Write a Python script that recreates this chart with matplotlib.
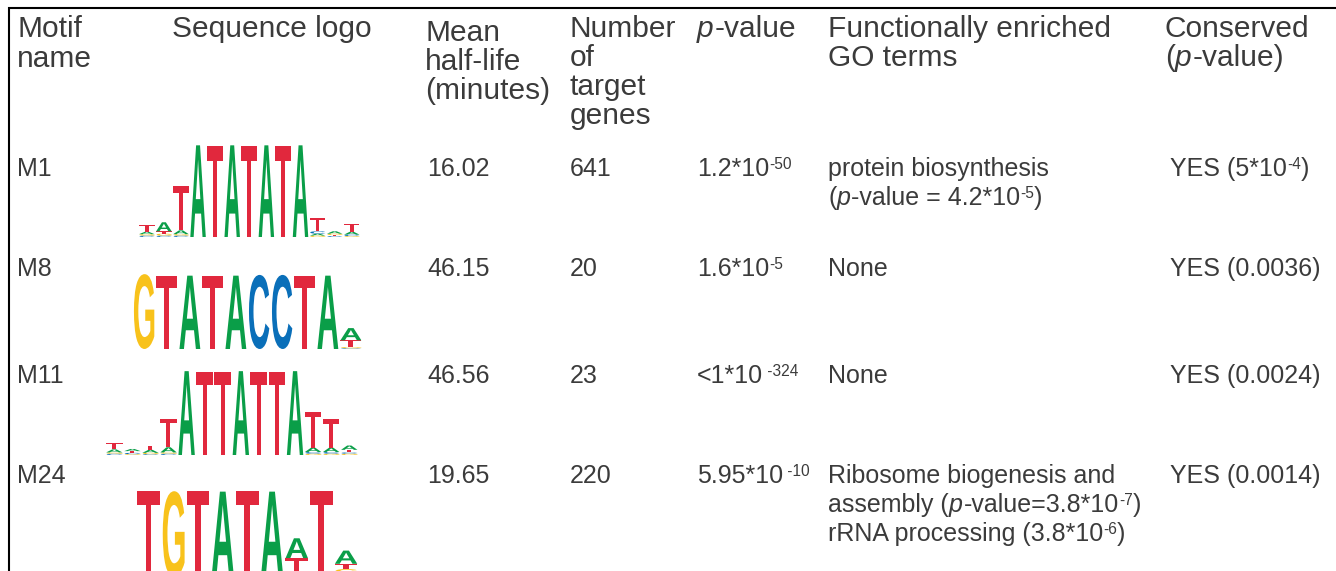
import matplotlib
matplotlib.use('Agg')
import matplotlib.pyplot as plt
from matplotlib.textpath import TextPath
from matplotlib.font_manager import FontProperties
from matplotlib.patches import PathPatch
from matplotlib.transforms import Affine2D

# ---------------- data ----------------
header_motif = ['Motif', 'name']
header_logo = 'Sequence logo'
header_halflife = ['Mean', 'half-life', '(minutes)']
header_targets = ['Number', 'of', 'target', 'genes']
header_go = ['Functionally enriched', 'GO terms']

motif_names = ['M1', 'M8', 'M11', 'M24']
half_lives = ['16.02', '46.15', '46.56', '19.65']
target_genes = ['641', '20', '23', '220']
pvalue_base = ['1.2*10', '1.6*10', '<1*10', '5.95*10']
pvalue_exp = ['-50', '-5', ' -324', ' -10']

go_terms = [
    [[('protein biosynthesis', 'n')],
     [('(', 'n'), ('p', 'it'), ('-value = 4.2*10', 'n'), ('-5', 'sup'), (')', 'n')]],
    [[('None', 'n')]],
    [[('None', 'n')]],
    [[('Ribosome biogenesis and', 'n')],
     [('assembly (', 'n'), ('p', 'it'), ('-value=3.8*10', 'n'), ('-7', 'sup'), (')', 'n')],
     [('rRNA processing (3.8*10', 'n'), ('-6', 'sup'), (')', 'n')]],
]
conserved = [
    [('YES (5*10', 'n'), ('-4', 'sup'), (')', 'n')],
    [('YES (0.0036)', 'n')],
    [('YES (0.0024)', 'n')],
    [('YES (0.0014)', 'n')],
]

# sequence logos: one dict of information (bits) per position
logo_M1 = [
    {'A': .05, 'C': .03, 'G': .03, 'T': .14},
    {'A': .19, 'C': .03, 'G': .04, 'T': .05},
    {'A': .08, 'C': .03, 'G': .03, 'T': .94},
    {'A': 1.93}, {'T': 1.92}, {'A': 1.93}, {'T': 1.92},
    {'A': 1.93}, {'T': 1.92}, {'A': 1.93},
    {'A': .04, 'C': .05, 'G': .03, 'T': .28},
    {'A': .05, 'C': .02, 'G': .03, 'T': .02},
    {'A': .06, 'C': .03, 'G': .02, 'T': .17},
]
logo_M8 = [
    {'G': 1.97}, {'T': 1.93}, {'A': 1.93}, {'T': 1.93}, {'A': 1.93},
    {'C': 1.95}, {'C': 1.95}, {'T': 1.93}, {'A': 1.93},
    {'A': .32, 'T': .18, 'G': .03, 'C': .02},
]
logo_M11 = [
    {'T': .14, 'A': .07, 'C': .03, 'G': .03},
    {'A': .05, 'T': .04, 'C': .03, 'G': .02},
    {'T': .10, 'A': .07, 'G': .03, 'C': .02},
    {'T': .66, 'A': .12, 'C': .03, 'G': .03},
    {'A': 1.95}, {'T': 1.93}, {'T': 1.93}, {'A': 1.95},
    {'T': 1.93}, {'T': 1.93}, {'A': 1.95},
    {'T': .84, 'A': .10, 'C': .04, 'G': .03},
    {'T': .66, 'A': .10, 'C': .04, 'G': .03},
    {'A': .10, 'T': .06, 'G': .03, 'C': .03},
]
logo_M24 = [
    {'T': 1.95}, {'G': 1.95}, {'T': 1.95}, {'A': 1.94}, {'T': 1.95},
    {'A': 1.94},
    {'A': .45, 'T': .40, 'G': .02, 'C': .01},
    {'T': 1.95},
    {'A': .30, 'T': .12, 'G': .10, 'C': .08},
]
logos = [logo_M1, logo_M8, logo_M11, logo_M24]

# ---------------- layout / style ----------------
W, H = 1336, 571
TXT = '#3b3b3b'
FONT = 'Liberation Sans'
HSIZE = 21.5
BSIZE = 18
base_colors = {'A': '#0a9e48', 'C': '#0a6fb9', 'G': '#f8c21b', 'T': '#e1283d'}

fig = plt.figure(figsize=(W / 100, H / 100), dpi=100)
ax = fig.add_axes([0, 0, 1, 1])
ax.set_xlim(0, W)
ax.set_ylim(H, 0)
ax.axis('off')
renderer = fig.canvas.get_renderer()


def rich(x, y, segs, size):
    for s, kind in segs:
        if kind == 'sup':
            t = ax.text(x, y - 7, s, fontsize=size * 0.62, family=FONT,
                        color=TXT, va='baseline', ha='left')
        else:
            t = ax.text(x, y, s, fontsize=size, family=FONT, color=TXT,
                        va='baseline', ha='left',
                        fontstyle='italic' if kind == 'it' else 'normal')
        bb = t.get_window_extent(renderer)
        x += bb.width + (1 if kind == 'it' else 0)


def lines(x, y0, texts, size, step):
    for i, s in enumerate(texts):
        ax.text(x, y0 + i * step, s, fontsize=size, family=FONT, color=TXT,
                va='baseline', ha='left')


# border lines
ax.plot([8, W], [7.5, 7.5], color='black', lw=1.5, solid_capstyle='butt')
ax.plot([8.5, 8.5], [7, H], color='black', lw=1.5, solid_capstyle='butt')

# header
lines(17, 37, header_motif, HSIZE, 30)
ax.text(172, 37, header_logo, fontsize=HSIZE, family=FONT, color=TXT, va='baseline')
lines(425, 41, header_halflife, HSIZE, 29)
lines(570, 37, header_targets, HSIZE, 29)
rich(697, 37, [('p', 'it'), ('-value', 'n')], HSIZE)
lines(828, 37, header_go, HSIZE, 29)
ax.text(1165, 37, 'Conserved', fontsize=HSIZE, family=FONT, color=TXT, va='baseline')
rich(1165, 66, [('(', 'n'), ('p', 'it'), ('-value)', 'n')], HSIZE)

# body rows
row_base = [176, 276, 383, 483]
for i in range(len(motif_names)):
    y = row_base[i]
    ax.text(17, y, motif_names[i], fontsize=BSIZE, family=FONT, color=TXT, va='baseline')
    ax.text(427, y, half_lives[i], fontsize=BSIZE, family=FONT, color=TXT, va='baseline')
    ax.text(570, y, target_genes[i], fontsize=BSIZE, family=FONT, color=TXT, va='baseline')
    rich(697, y, [(pvalue_base[i], 'n'), (pvalue_exp[i], 'sup')], BSIZE)
    for j, segs in enumerate(go_terms[i]):
        rich(828, y + j * 29, segs, BSIZE)
    rich(1170, y, conserved[i], BSIZE)

# sequence logos
fp = FontProperties(family=FONT, weight='bold')
glyphs = {}
for b in 'ACGT':
    p = TextPath((0, 0), b, size=1, prop=fp)
    v = p.vertices
    glyphs[b] = (p, v[:, 0].min(), v[:, 0].max(), v[:, 1].min(), v[:, 1].max())

# (x_left, x_right, baseline_y, pixels_per_bit)
logo_boxes = [(138, 360, 237, 47.5), (132, 362, 349, 38.0),
              (105, 358, 455, 43.0), (136, 358, 577, 44.0)]

for logo, (x0, x1, yb, ppb) in zip(logos, logo_boxes):
    cw = (x1 - x0) / len(logo)
    for k, col in enumerate(logo):
        xl = x0 + k * cw + cw * 0.03
        lw_ = cw * 0.94
        ycur = yb
        for b, h in sorted(col.items(), key=lambda kv: kv[1]):
            hp = h * ppb
            p, gx0, gx1, gy0, gy1 = glyphs[b]
            tr = (Affine2D().translate(-gx0, -gy0)
                  .scale(lw_ / (gx1 - gx0), -hp / (gy1 - gy0))
                  .translate(xl, ycur))
            ax.add_patch(PathPatch(tr.transform_path(p), facecolor=base_colors[b],
                                   edgecolor='none', lw=0))
            ycur -= hp

fig.savefig('out.png', dpi=100)
